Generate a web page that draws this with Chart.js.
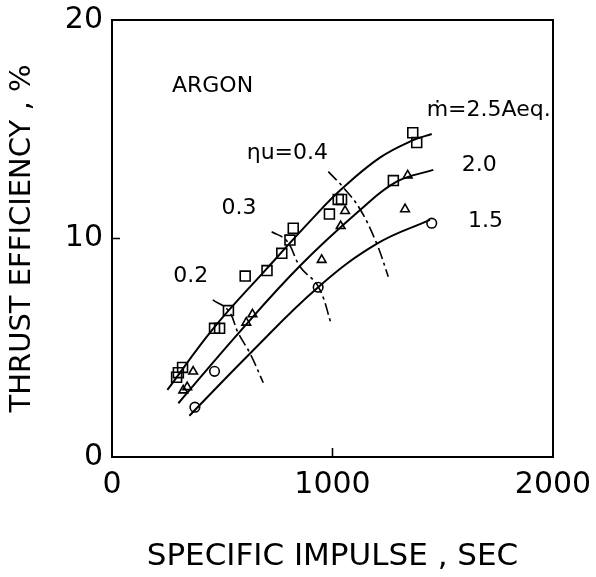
<!DOCTYPE html>
<html>
<head>
<meta charset="utf-8">
<title>Argon - thrust efficiency vs specific impulse</title>
<script src="https://cdn.jsdelivr.net/npm/chart.js@4.4.1/dist/chart.umd.min.js"></script>
<style>
    html, body { margin: 0; padding: 0; background: #fff; }
    #wrap { position: relative; width: 596px; height: 577px; }
</style>
</head>
<body>
<div id="wrap"><canvas id="thrustChart"></canvas></div>
<script>
// measured points (specific impulse in sec, thrust efficiency in %)
const squareIsp = [1364, 1382, 1276, 1026, 1041, 986, 822, 807, 770, 703, 604, 528, 465, 488, 320, 301, 293];
const squareEff = [14.84, 14.39, 12.65, 11.79, 11.79, 11.12, 10.47, 9.93, 9.32, 8.53, 8.28, 6.70, 5.89, 5.89, 4.10, 3.86, 3.65];
const triangleIsp = [1341, 1329, 1057, 1037, 951, 637, 609, 368, 341, 323];
const triangleEff = [12.89, 11.34, 11.26, 10.57, 9.02, 6.53, 6.15, 3.91, 3.20, 3.05];
const circleIsp = [1450, 935, 465, 376];
const circleEff = [10.70, 7.77, 3.92, 2.28];

// faired curves, m-dot = 2.5 / 2.0 / 1.5 Aeq
const curve25Isp = [251, 460, 700, 910, 1040, 1215, 1366, 1450];
const curve25Eff = [3.07, 5.89, 8.60, 10.92, 12.25, 13.70, 14.50, 14.78];
const curve20Isp = [301, 573, 853, 1125, 1291, 1457];
const curve20Eff = [2.46, 5.66, 8.75, 11.30, 12.60, 13.14];
const curve15Isp = [351, 626, 935, 1200, 1442];
const curve15Eff = [1.89, 4.74, 7.77, 9.75, 10.85];

// constant utilization lines, eta_u = 0.2 / 0.3 / 0.4
const eta02Isp = [457, 528, 573, 626, 686];
const eta02Eff = [7.19, 6.70, 5.66, 4.74, 3.40];
const eta03Isp = [724, 792, 853, 936, 996];
const eta03Eff = [10.31, 9.90, 8.71, 7.79, 6.04];
const eta04Isp = [981, 1049, 1125, 1200, 1253];
const eta04Eff = [13.06, 12.34, 11.34, 9.78, 8.25];

const xTicks = [0, 1000, 2000];
const yTicks = [0, 10, 20];

const notes = [
    { text: 'ARGON', x: 456, y: 16.98, align: 'center' },
    { text: 'ṁ=2.5Aeq.', x: 1427, y: 15.88, align: 'left' },
    { text: '2.0', x: 1586, y: 13.36, align: 'left' },
    { text: '1.5', x: 1614, y: 10.77, align: 'left' },
    { text: 'ηu=0.4', x: 611, y: 13.90, align: 'left' },
    { text: '0.3', x: 497, y: 11.38, align: 'left' },
    { text: '0.2', x: 278, y: 8.25, align: 'left' }
];

const FONT = '"DejaVu Sans", "Liberation Sans", sans-serif';
const INK = '#000';

const toPoints = (xs, ys) => xs.map((x, i) => ({ x, y: ys[i] }));

const curve = (xs, ys) => ({
    data: toPoints(xs, ys),
    showLine: true,
    borderColor: INK,
    borderWidth: 2,
    pointRadius: 0,
    tension: 0.4
});

const etaLine = (xs, ys) => ({
    data: toPoints(xs, ys),
    showLine: true,
    borderColor: INK,
    borderWidth: 1.6,
    borderDash: [12, 4, 3, 4],
    pointRadius: 0,
    tension: 0.4
});

const markers = (xs, ys, style, radius) => ({
    data: toPoints(xs, ys),
    showLine: false,
    pointStyle: style,
    pointRadius: radius,
    pointBorderWidth: 1.6,
    pointBorderColor: INK,
    pointBackgroundColor: 'rgba(0,0,0,0)'
});

// box round the plot, inward ticks and the text labels inside
const framePlugin = {
    id: 'frame',
    afterDatasetsDraw(chart) {
        const { ctx, chartArea: a, scales } = chart;
        ctx.save();
        ctx.strokeStyle = INK;
        ctx.lineWidth = 2;
        ctx.strokeRect(a.left, a.top, a.right - a.left, a.bottom - a.top);

        ctx.lineWidth = 1.6;
        ctx.beginPath();
        xTicks.slice(1, -1).forEach((v) => {
            const px = scales.x.getPixelForValue(v);
            ctx.moveTo(px, a.bottom);
            ctx.lineTo(px, a.bottom - 9);
        });
        yTicks.slice(1, -1).forEach((v) => {
            const py = scales.y.getPixelForValue(v);
            ctx.moveTo(a.left, py);
            ctx.lineTo(a.left + 8, py);
        });
        ctx.stroke();

        ctx.fillStyle = INK;
        ctx.font = '22px ' + FONT;
        ctx.textBaseline = 'middle';
        notes.forEach((n) => {
            ctx.textAlign = n.align;
            ctx.fillText(n.text, scales.x.getPixelForValue(n.x), scales.y.getPixelForValue(n.y));
        });
        ctx.restore();
    }
};

Chart.defaults.font.family = FONT;
Chart.defaults.color = INK;

new Chart(document.getElementById('thrustChart'), {
    type: 'scatter',
    data: {
        datasets: [
            curve(curve25Isp, curve25Eff),
            curve(curve20Isp, curve20Eff),
            curve(curve15Isp, curve15Eff),
            etaLine(eta02Isp, eta02Eff),
            etaLine(eta03Isp, eta03Eff),
            etaLine(eta04Isp, eta04Eff),
            markers(squareIsp, squareEff, 'rect', 7),
            markers(triangleIsp, triangleEff, 'triangle', 5),
            markers(circleIsp, circleEff, 'circle', 4.8)
        ]
    },
    options: {
        responsive: true,
        maintainAspectRatio: false,
        animation: false,
        layout: { padding: { top: 20, right: 43, left: 0, bottom: 0 } },
        plugins: { legend: { display: false }, tooltip: { enabled: false } },
        scales: {
            x: {
                type: 'linear',
                min: 0,
                max: 2000,
                afterBuildTicks: (scale) => { scale.ticks = xTicks.map((v) => ({ value: v })); },
                afterFit: (scale) => { scale.height = 120; },
                // tickLength only offsets the labels, the marks are drawn inward by the plugin
                grid: { display: false, drawTicks: true, tickLength: 10 },
                border: { display: false },
                ticks: { font: { size: 30 }, padding: 0, maxRotation: 0, callback: (v) => String(v) },
                title: {
                    display: true,
                    text: 'SPECIFIC IMPULSE , SEC',
                    font: { size: 31 },
                    padding: { top: 0, bottom: 1 }
                }
            },
            y: {
                type: 'linear',
                min: 0,
                max: 20,
                afterBuildTicks: (scale) => { scale.ticks = yTicks.map((v) => ({ value: v })); },
                afterFit: (scale) => { scale.width = 112; },
                grid: { display: false, drawTicks: true, tickLength: 9 },
                border: { display: false },
                ticks: { font: { size: 30 }, padding: 0, callback: (v) => String(v) },
                title: {
                    display: true,
                    text: 'THRUST EFFICIENCY , %',
                    font: { size: 29 },
                    padding: { top: 5, bottom: 0 }
                }
            }
        }
    },
    plugins: [framePlugin]
});
</script>
</body>
</html>
